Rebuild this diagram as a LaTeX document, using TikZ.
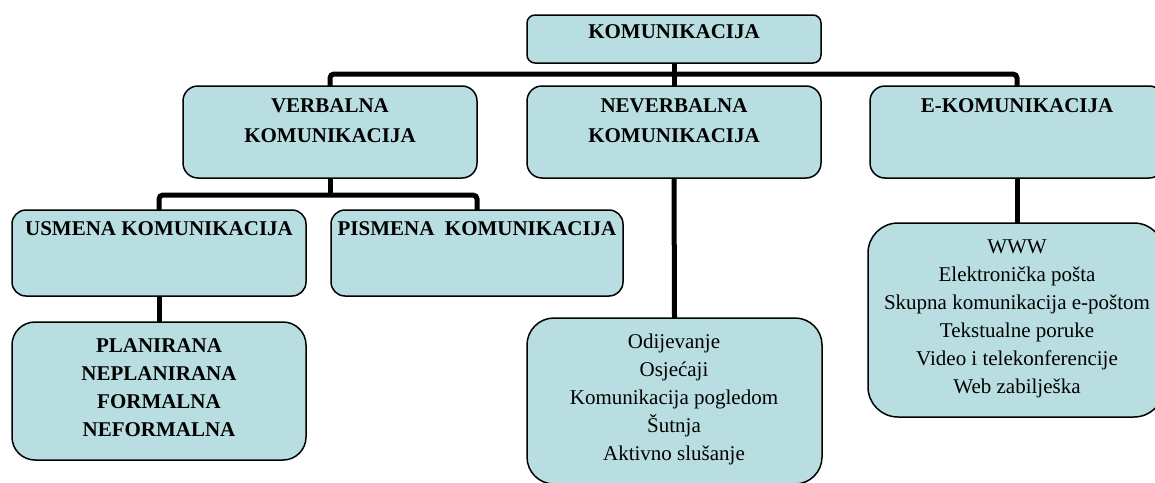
\documentclass[tikz,border=0pt]{standalone}
\usepackage{fontspec}
\setmainfont{Liberation Serif}
\definecolor{boxfill}{RGB}{184,222,226}
\tikzset{
  box/.style={draw=black, line width=1.5pt, fill=boxfill, inner sep=0pt, outer sep=0pt, anchor=north west},
  conn/.style={draw=black, line width=5pt},
  head/.style={font=\fontsize{21}{30}\selectfont\bfseries, align=center, anchor=base, inner sep=0pt},
  listb/.style={font=\fontsize{21}{28}\selectfont\bfseries, align=center, anchor=base, inner sep=0pt},
  listr/.style={font=\fontsize{21}{28}\selectfont, align=center, anchor=base, inner sep=0pt},
}
\begin{document}
\begin{tikzpicture}[x=1pt,y=-1pt]
\useasboundingbox (0,0) rectangle (1155,482);
% boxes
\node[box, rounded corners=8pt, minimum width=294pt, minimum height=48pt] (top) at (527,15) {};
\node[box, rounded corners=15pt, minimum width=294pt, minimum height=92pt] (verb) at (183,86) {};
\node[box, rounded corners=15pt, minimum width=294pt, minimum height=92pt] (never) at (527,86) {};
\node[box, rounded corners=15pt, minimum width=294pt, minimum height=92pt] (ekom) at (870,86) {};
\node[box, rounded corners=14pt, minimum width=294pt, minimum height=86pt] (usm) at (12,210) {};
\node[box, rounded corners=14pt, minimum width=292pt, minimum height=86pt] (pism) at (331,210) {};
\node[box, rounded corners=23pt, minimum width=294pt, minimum height=138pt] (plan) at (12,322) {};
\node[box, rounded corners=27pt, minimum width=295pt, minimum height=166pt] (nvlist) at (527,318) {};
\node[box, rounded corners=30pt, minimum width=296pt, minimum height=194pt] (wlist) at (868,223) {};
% texts (anchor=base is the baseline of the last line)
\node[head] (tTop) at (674,38) {KOMUNIKACIJA};
\node[head] (tVerb) at (330,142) {VERBALNA\\KOMUNIKACIJA};
\node[head] (tNever) at (674,142) {NEVERBALNA\\KOMUNIKACIJA};
\node[head] (tEkom) at (1017,112) {E-KOMUNIKACIJA};
\node[head] (tUsm) at (159,235) {USMENA KOMUNIKACIJA};
\node[head] (tPism) at (477,235) {PISMENA\ \ KOMUNIKACIJA};
\node[listb] (tPlan) at (159,436) {PLANIRANA\\NEPLANIRANA\\FORMALNA\\NEFORMALNA};
\node[listr] (tNv) at (674,460) {Odijevanje\\Osjećaji\\Komunikacija pogledom\\Šutnja\\Aktivno slušanje};
\node[listr] (tW) at (1017,393) {WWW\\Elektronička pošta\\Skupna komunikacija e-poštom\\Tekstualne poruke\\Video i telekonferencije\\Web zabilješka};
% connectors
\coordinate (bar) at (0,74);
\coordinate (bar2) at (0,195);
\draw[conn] (top.south) -- (top.south |- bar);
\draw[conn, rounded corners=4pt] (verb.north) -- (verb.north |- bar) -- (ekom.north |- bar) -- (ekom.north);
\draw[conn] (never.north) -- (never.north |- bar);
\draw[conn, rounded corners=4pt] (usm.north) -- (usm.north |- bar2) -- (pism.north |- bar2) -- (pism.north);
\draw[conn] (verb.south) -- (verb.south |- bar2);
\draw[conn] (usm.south) -- (plan.north);
\draw[conn] (never.south) -- (nvlist.north);
\draw[conn] (ekom.south) -- (ekom.south |- wlist.north);
\end{tikzpicture}
\end{document}
